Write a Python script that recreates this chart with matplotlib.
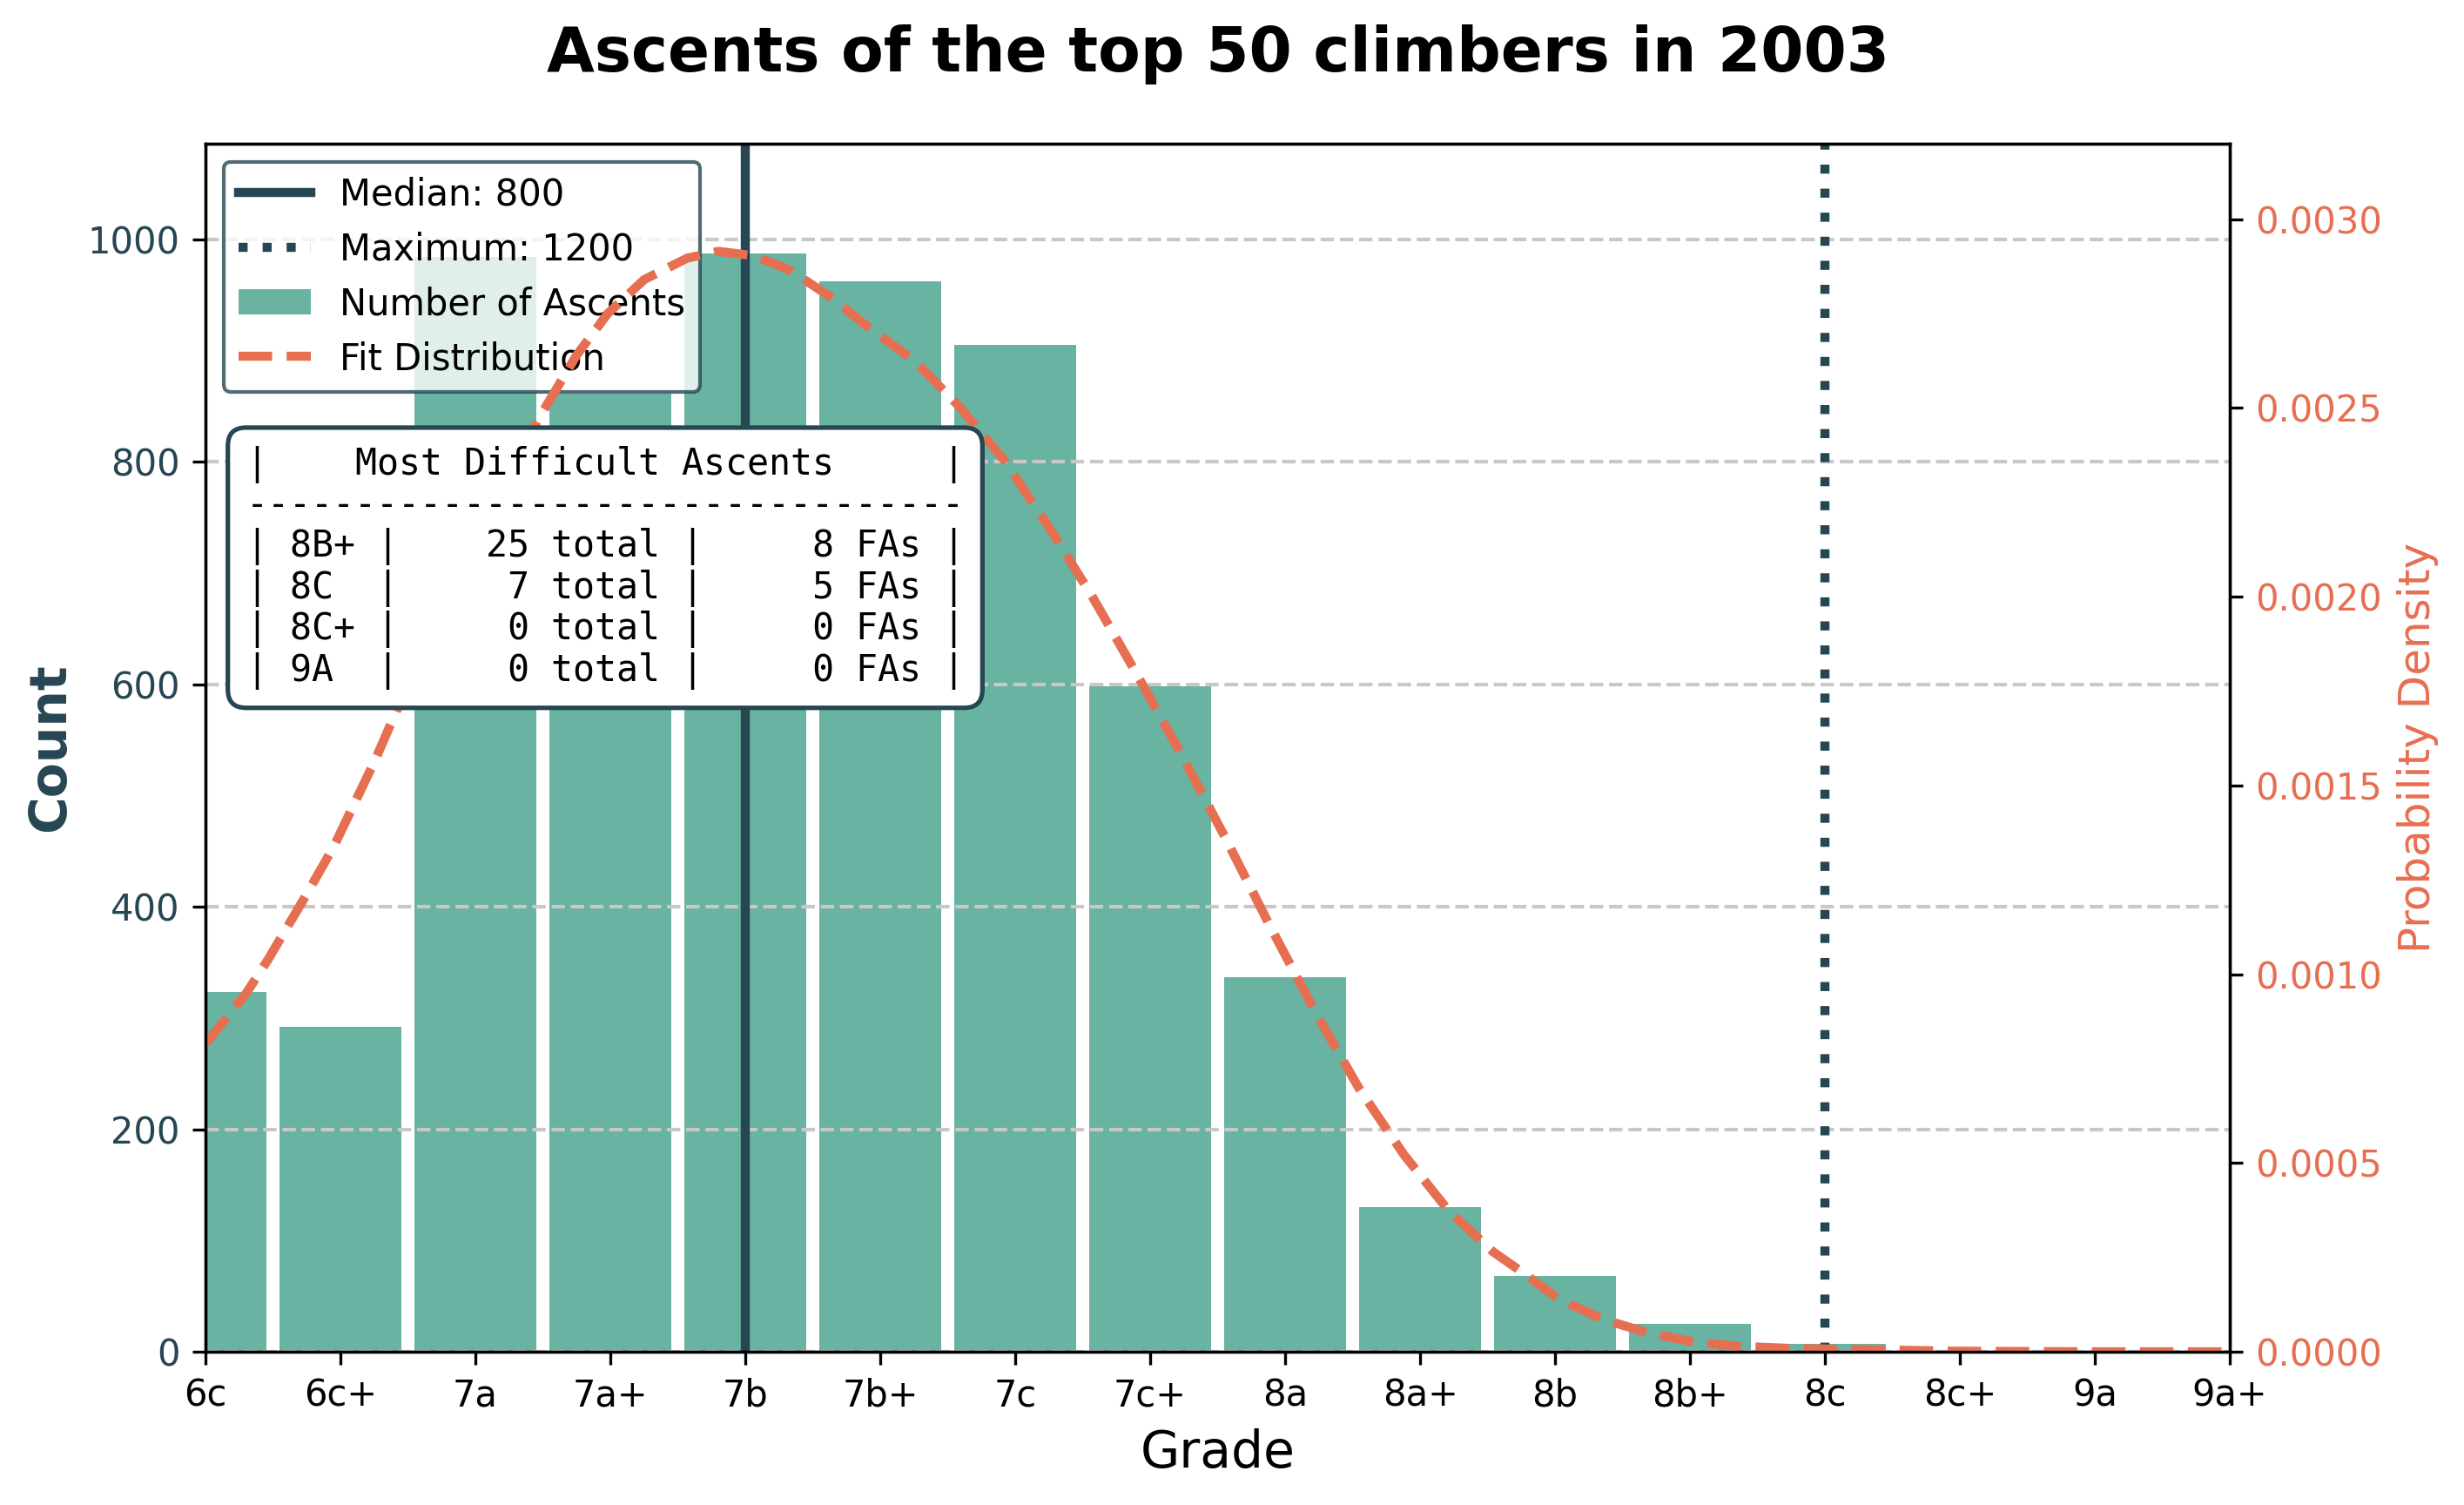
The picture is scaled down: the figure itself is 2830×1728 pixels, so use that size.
import matplotlib

matplotlib.use("Agg")
import matplotlib.pyplot as plt

# Grades on the x axis and the number of ascents per grade
grades = ["6c", "6c+", "7a", "7a+", "7b", "7b+", "7c", "7c+",
          "8a", "8a+", "8b", "8b+", "8c", "8c+", "9a", "9a+"]
ascents = [323, 292, 984, 861, 987, 962, 905, 598,
           337, 130, 68, 25, 7, 0, 0, 0]

median_grade = 800
max_grade = 1200
median_pos = grades.index("7b")
max_pos = grades.index("8c")

# Fitted density curve (x in grade-index units)
fit_x = [0.0, 0.3, 0.46, 0.72, 0.95, 1.25, 1.44, 1.75, 2.0, 2.25,
         2.46, 2.75, 2.98, 3.25, 3.57, 3.8, 4.07, 4.33, 4.62, 4.89,
         5.26, 5.59, 5.92, 6.25, 6.57, 6.9, 7.23, 7.56, 7.89, 8.22,
         8.55, 8.88, 9.21, 9.54, 9.74, 10.03, 10.36, 10.69, 11.02, 11.35,
         11.75, 12.24, 13.0, 14.0, 15.0]
fit_density = [0.000816, 0.000949, 0.001037, 0.001194, 0.001338, 0.001562,
               0.001718, 0.001945, 0.002137, 0.002313, 0.002467, 0.002640,
               0.002750, 0.002840, 0.002897, 0.002915, 0.002903, 0.002865,
               0.002797, 0.002720, 0.002623, 0.002502, 0.002361, 0.002184,
               0.002001, 0.001795, 0.001583, 0.001359, 0.001126, 0.000902,
               0.000696, 0.000522, 0.000374, 0.000265, 0.000215, 0.000139,
               0.0000855, 0.0000501, 0.0000265, 0.0000147, 0.0000088,
               0.0000059, 0.0000015, 0.0, 0.0]

# Table of the hardest grades
table_grades = ["8B+", "8C", "8C+", "9A"]
table_totals = [25, 7, 0, 0]
table_fas = [8, 5, 0, 0]

dark = "#264653"
teal = "#69b3a2"
orange = "#e76f51"

fig = plt.figure(figsize=(2830 / 300, 1728 / 300), dpi=300)
ax = fig.add_axes([0.0834, 0.1018, 0.8216, 0.8027])

positions = list(range(len(grades)))
ax.bar(positions, ascents, width=0.9, color=teal, label="Number of Ascents")
ax.axvline(median_pos, color=dark, lw=2.5, label=f"Median: {median_grade}")
ax.axvline(max_pos, color=dark, lw=2.5, ls=":", label=f"Maximum: {max_grade}")

ax.set_xlim(0, len(grades) - 1)
ax.set_ylim(0, max(ascents) * 1.1)
ax.set_xticks(positions)
ax.set_xticklabels(grades)
ax.grid(axis="y", ls="--", color="#c8c8c8", lw=1)
ax.tick_params(axis="y", labelcolor=dark)
ax.set_xlabel("Grade", fontsize=14)
ax.set_ylabel("Count", fontsize=14, fontweight="bold", color=dark, labelpad=3.5)
ax.set_title("Ascents of the top 50 climbers in 2003",
             fontsize=17, fontweight="bold", pad=20)

# Second axis for the fitted distribution
ax2 = ax.twinx()
ax2.plot(fit_x, fit_density, color=orange, lw=2.5, ls="--",
         label="Fit Distribution")
ax2.set_ylim(0, 0.0032)
ax2.set_ylabel("Probability Density", fontsize=12, color=orange)
ax2.tick_params(axis="y", labelcolor=orange)

h1, l1 = ax.get_legend_handles_labels()
h2, l2 = ax2.get_legend_handles_labels()
ax.legend(h1 + h2, l1 + l2, loc="upper left", fontsize=10,
          framealpha=0.8, edgecolor=dark)

lines = [f"|{'Most Difficult Ascents':^31}|", "-" * 33]
for g, t, f in zip(table_grades, table_totals, table_fas):
    lines.append(f"| {g:<4}| {t:>5} total | {f:>5} FAs |")
ax2.text(0.02, 0.75, "\n".join(lines), transform=ax2.transAxes,
         family="DejaVu Sans Mono", fontsize=10, va="top", ha="left",
         linespacing=1.14, zorder=10,
         bbox=dict(boxstyle="round,pad=0.5", facecolor="white",
                   edgecolor=dark, lw=1.25))

fig.savefig("out.png", dpi=300)
